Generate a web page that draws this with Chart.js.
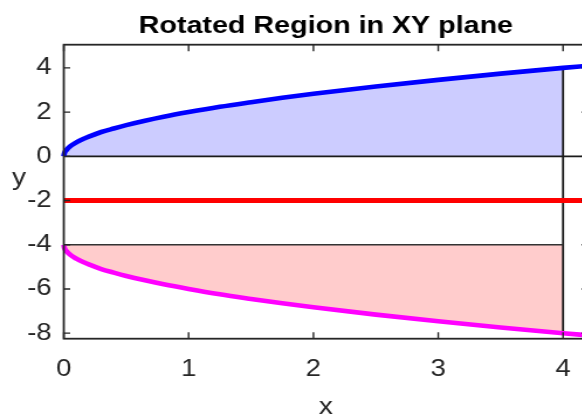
<!DOCTYPE html>
<html>
<head>
<meta charset="utf-8">
<script src="https://cdn.jsdelivr.net/npm/chart.js@4.4.0/dist/chart.umd.min.js"></script>
<style>
  html, body { margin: 0; padding: 0; background: #fff; overflow: hidden; }
  #wrap { width: 582px; height: 418px; overflow: hidden; position: relative; }
  /* the reference text looks stretched sideways, so the whole canvas is stretched */
  #stretch { transform-origin: 0 0; position: absolute; left: 0; top: 0; }
</style>
</head>
<body>
<div id="wrap"><div id="stretch"><canvas id="chart"></canvas></div></div>
<script>
// values
var xVals     = [0, 0.005, 0.02, 0.05, 0.1, 0.15, 0.2, 0.3, 0.4, 0.5, 0.65, 0.8, 1, 1.25, 1.5, 1.75, 2, 2.5, 3, 3.5, 4, 4.2];
var upperVals = [0, 0.14, 0.28, 0.45, 0.63, 0.77, 0.89, 1.10, 1.26, 1.41, 1.61, 1.79, 2.00, 2.24, 2.45, 2.65, 2.83, 3.16, 3.46, 3.74, 4.00, 4.10];
var lowerVals = [-4, -4.14, -4.28, -4.45, -4.63, -4.77, -4.89, -5.10, -5.26, -5.41, -5.61, -5.79, -6.00, -6.24, -6.45, -6.65, -6.83, -7.16, -7.46, -7.74, -8.00, -8.10];
var axisLine  = -2;      // red line
var regionEnd = 4;       // shaded regions stop here
var xTicks = [0, 1, 2, 3, 4];
var yTicks = [-8, -6, -4, -2, 0, 2, 4];
var xRange = [0, 4.2];
var yRange = [-8.25, 5.05];
var titleText = 'Rotated Region in XY plane';
var xLabel = 'x', yLabel = 'y';

var S = 1.17;            // horizontal stretch
var W = 520, H = 418;
var ink = '#262626';
var fam = '"Liberation Sans", Arial, sans-serif';

function pts(xs, ys) {
	var out = [];
	for (var i = 0; i < xs.length; i++) out.push({x: xs[i], y: ys[i]});
	return out;
}
function upTo(list, lim) {
	return list.filter(function(p) { return p.x <= lim + 1e-9; });
}

var upper = pts(xVals, upperVals);
var lower = pts(xVals, lowerVals);

var cv = document.getElementById('chart');
cv.width = W; cv.height = H;
cv.style.width = W + 'px'; cv.style.height = H + 'px';
document.getElementById('stretch').style.transform = 'scaleX(' + S + ')';

// box, inward ticks, title and the axis labels
var frame = {
	id: 'frame',
	afterDraw: function(chart) {
		var c = chart.ctx, a = chart.chartArea;
		var xs = chart.scales.x, ys = chart.scales.y;
		c.save();
		c.strokeStyle = ink;
		c.lineWidth = 1.8;
		c.strokeRect(a.left, a.top, a.right - a.left, a.bottom - a.top);
		c.lineWidth = 1.4;
		c.beginPath();
		xTicks.forEach(function(t) {
			var px = xs.getPixelForValue(t);
			c.moveTo(px, a.bottom); c.lineTo(px, a.bottom - 6.5);
			c.moveTo(px, a.top); c.lineTo(px, a.top + 6.5);
		});
		yTicks.forEach(function(t) {
			var py = ys.getPixelForValue(t);
			c.moveTo(a.left, py); c.lineTo(a.left + 5.5, py);
			c.moveTo(a.right, py); c.lineTo(a.right - 5.5, py);
		});
		c.stroke();
		c.textAlign = 'center';
		c.textBaseline = 'alphabetic';
		c.fillStyle = '#000';
		c.font = 'bold 24.5px ' + fam;
		c.fillText(titleText, (a.left + a.right) / 2, 32.5);
		c.fillStyle = ink;
		c.font = '24px ' + fam;
		c.fillText(xLabel, (a.left + a.right) / 2, 414);
		c.fillText(yLabel, 19 / S, 185);
		c.restore();
	}
};

new Chart(cv, {
	type: 'line',
	data: {
		datasets: [
			{ data: upper, borderColor: '#0000ff', borderWidth: 4.6, pointRadius: 0, cubicInterpolationMode: 'monotone', fill: false, order: 0, clip: 6 },
			{ data: lower, borderColor: '#ff00ff', borderWidth: 4.6, pointRadius: 0, cubicInterpolationMode: 'monotone', fill: false, order: 0, clip: 6 },
			{ data: [{x: xRange[0], y: axisLine}, {x: xRange[1], y: axisLine}], borderColor: '#ff0000', borderWidth: 5, pointRadius: 0, fill: false, order: 0 },
			// black edges of the regions
			{ data: [{x: 0, y: 0}, {x: xRange[1], y: 0}], borderColor: '#1a1a1a', borderWidth: 1.7, pointRadius: 0, fill: false, order: 1 },
			{ data: [{x: 0, y: -4}, {x: regionEnd, y: -4}], borderColor: '#333333', borderWidth: 1.6, pointRadius: 0, fill: false, order: 1 },
			{ data: [{x: regionEnd, y: upperVals[xVals.indexOf(regionEnd)]}, {x: regionEnd, y: lowerVals[xVals.indexOf(regionEnd)]}], borderColor: '#1a1a1a', borderWidth: 1.8, pointRadius: 0, fill: false, order: 1 },
			// shaded regions
			{ data: upTo(upper, regionEnd), borderWidth: 0, pointRadius: 0, cubicInterpolationMode: 'monotone', backgroundColor: '#ccccff', fill: {value: 0}, order: 2 },
			{ data: upTo(lower, regionEnd), borderWidth: 0, pointRadius: 0, cubicInterpolationMode: 'monotone', backgroundColor: '#ffcccc', fill: {value: -4}, order: 2 }
		]
	},
	options: {
		responsive: false,
		animation: false,
		devicePixelRatio: 1,
		layout: { padding: { left: 0, right: W - 588 / S, top: 44.7, bottom: 0 } },
		plugins: {
			legend: { display: false },
			tooltip: { enabled: false },
			title: { display: false }
		},
		scales: {
			x: {
				type: 'linear', min: xRange[0], max: xRange[1],
				grid: { display: false, drawTicks: false },
				border: { display: false },
				afterBuildTicks: function(s) { s.ticks = xTicks.map(function(v) { return {value: v}; }); },
				afterFit: function(s) { s.height = H - 338.7; },
				ticks: { color: ink, padding: 17, maxRotation: 0, font: { family: fam, size: 23.5 } }
			},
			y: {
				min: yRange[0], max: yRange[1],
				grid: { display: false, drawTicks: false },
				border: { display: false },
				afterBuildTicks: function(s) { s.ticks = yTicks.map(function(v) { return {value: v}; }); },
				afterFit: function(s) { s.width = 63.8 / S; },
				ticks: { color: ink, padding: 10.5, font: { family: fam, size: 23.5 } }
			}
		}
	},
	plugins: [frame]
});
</script>
</body>
</html>
